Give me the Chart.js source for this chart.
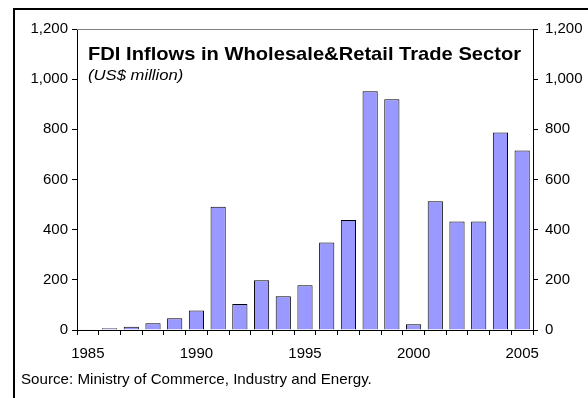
<!DOCTYPE html>
<html>
<head>
<meta charset="utf-8">
<script src="https://cdn.jsdelivr.net/npm/chart.js@4"></script>
<style>
  body { margin: 0; background: #fff; }
  #wrap { position: relative; width: 588px; height: 398px; overflow: hidden; }
  #frame { position: absolute; left: 13px; top: 8px; width: 600px; height: 420px; border: 2px solid #000; box-sizing: border-box; }
  #chart { position: absolute; left: 0; top: 0; }
</style>
</head>
<body>
<div id="wrap">
  <div id="frame"></div>
  <canvas id="chart" width="588" height="398"></canvas>
</div>
<script>
const years = [1985, 1986, 1987, 1988, 1989, 1990, 1991, 1992, 1993, 1994, 1995,
  1996, 1997, 1998, 1999, 2000, 2001, 2002, 2003, 2004, 2005];
const inflows = [3, 7, 13, 27, 47, 78, 491, 104, 198, 135, 178,
  349, 439, 952, 920, 23, 513, 433, 433, 787, 716];
const yTicks = [0, 200, 400, 600, 800, 1000, 1200];

const titleText = "FDI Inflows in Wholesale&Retail Trade Sector";
const unitText = "(US$ million)";
const sourceText = "Source: Ministry of Commerce, Industry and Energy.";

const FONT = "'Liberation Sans', Arial, sans-serif";

// text drawn slightly widened, like the old spreadsheet export
function wideText(ctx, text, x, y, sx) {
  ctx.save();
  ctx.translate(x, y);
  ctx.scale(sx, 1);
  ctx.fillText(text, 0, 0);
  ctx.restore();
}

// title inside the plot, gray top edge and source line under the axis
const annotations = {
  id: "annotations",
  afterDraw(chart) {
    const { ctx, chartArea } = chart;
    ctx.save();
    ctx.strokeStyle = "#808080";
    ctx.lineWidth = 1;
    ctx.beginPath();
    ctx.moveTo(chartArea.left, chartArea.top + 0.5);
    ctx.lineTo(chartArea.right, chartArea.top + 0.5);
    ctx.stroke();

    ctx.fillStyle = "#000";
    ctx.textBaseline = "alphabetic";
    ctx.textAlign = "left";
    ctx.font = "bold 19px " + FONT;
    wideText(ctx, titleText, chartArea.left + 11, 60, 1.06);
    ctx.font = "italic 15px " + FONT;
    wideText(ctx, unitText, chartArea.left + 11, 80, 1.11);
    ctx.font = "15px " + FONT;
    wideText(ctx, sourceText, 21, 384, 1.01);
    ctx.restore();
  }
};

const yAxis = (position, width, pad) => ({
  position,
  min: 0,
  max: 1200,
  afterBuildTicks: s => { s.ticks = yTicks.map(v => ({ value: v })); },
  afterFit: s => { s.width = width; },
  border: { display: true, color: "#000", width: 1 },
  grid: { drawOnChartArea: false, drawTicks: true, tickLength: 5, color: "#000" },
  ticks: {
    color: "#000",
    padding: pad,
    font: { family: FONT, size: 15 },
    callback: v => v.toLocaleString("en-US")
  }
});

new Chart(document.getElementById("chart"), {
  type: "bar",
  data: {
    labels: years,
    datasets: [{
      data: inflows,
      backgroundColor: "#9999FF",
      borderColor: "#000",
      borderWidth: 1,
      categoryPercentage: 1,
      barPercentage: 0.7
    }]
  },
  options: {
    responsive: false,
    animation: false,
    layout: { padding: { top: 29, left: 0, right: 0, bottom: 0 } },
    plugins: { legend: { display: false }, tooltip: { enabled: false } },
    scales: {
      x: {
        afterFit: s => { s.height = 68; },
        border: { display: true, color: "#000", width: 1 },
        // tick marks sit on the category boundaries
        grid: {
          offset: true,
          drawOnChartArea: false,
          drawTicks: true,
          tickLength: 5,
          color: "#000"
        },
        ticks: {
          color: "#000",
          autoSkip: false,
          maxRotation: 0,
          padding: 10,
          font: { family: FONT, size: 15 },
          callback: function (v) {
            const yr = this.getLabelForValue(v);
            return yr % 5 === 0 ? String(yr) : "";
          }
        }
      },
      y: yAxis("left", 77, 4),
      y2: yAxis("right", 55, 7)
    }
  },
  plugins: [annotations]
});
</script>
</body>
</html>
